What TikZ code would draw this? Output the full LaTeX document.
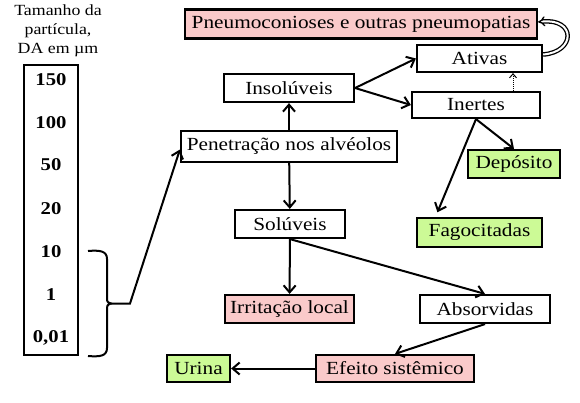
\documentclass[tikz,border=0pt]{standalone}
\usepackage{fontspec}
\setmainfont{Liberation Serif}[FakeStretch=1.15]
\usetikzlibrary{arrows.meta}

\definecolor{pneupink}{RGB}{250,202,202}
\definecolor{fagogreen}{RGB}{204,250,150}

\begin{document}
\begin{tikzpicture}[x=1pt, y=-1pt, >={Straight Barb[length=7pt,width=12pt]},
    font=\fontsize{18.5}{20}\selectfont,
    box/.style={draw, line width=2.2pt, inner sep=0pt, minimum height=28pt},
    pinkbox/.style={box, fill=pneupink},
    greenbox/.style={box, fill=fagogreen},
    arr/.style={->, line width=2pt}]
    \useasboundingbox (0,0) rectangle (580,402);

    % the size column on the left
    \node[align=center, font=\fontsize{15.5}{19}\selectfont] (title) at (58,31) {Tamanho da\\partícula,\\DA em µm};
    \node[draw, line width=2.2pt, minimum width=54pt, minimum height=290pt] (column) at (51,210) {};
    \foreach \val/\ypos [count=\i] in {150/80, 100/123, 50/165, 20/209, 10/252, 1/295, {0,01}/338}
        \node[font=\fontsize{18}{20}\selectfont\bfseries] (size\i) at (51,\ypos) {\val};

    % the brace round the small sizes
    \draw[line width=2pt] (88,251) .. controls (100,250) and (107,251) .. (107,259) -- (107,297)
        .. controls (107,302) .. (111,303.5) .. controls (107,305) .. (107,311) -- (107,348)
        .. controls (107,356) and (100,357) .. (88,356);
    \coordinate (bracetip) at (111,303.5);

    % the boxes
    \node[pinkbox, minimum width=352pt, minimum height=29pt] (pneumo) at (361,24) {Pneumoconioses e outras pneumopatias};
    \node[box, minimum width=125pt, minimum height=27pt] (ativas) at (479.5,58.5) {Ativas};
    \node[box, minimum width=130pt] (insol) at (289,88) {Insolúveis};
    \node[box, minimum width=128pt, minimum height=26pt] (inertes) at (476,105) {Inertes};
    \node[box, minimum width=216pt, minimum height=31pt] (penet) at (289,146.5) {Penetração nos alvéolos};
    \node[box, minimum width=110pt] (solu) at (290,224) {Solúveis};
    \node[greenbox, minimum width=92pt] (deposito) at (514,164) {Depósito};
    \node[greenbox, minimum width=125pt, minimum height=29pt] (fago) at (479.5,232.5) {Fagocitadas};
    \node[pinkbox, minimum width=129pt] (irrit) at (289.5,309) {Irritação local};
    \node[box, minimum width=130pt] (absor) at (485,309) {Absorvidas};
    \node[greenbox, minimum width=63pt, minimum height=27pt] (urina) at (198.5,368.5) {Urina};
    \node[pinkbox, minimum width=158pt, minimum height=27pt] (efeito) at (395,368.5) {Efeito sistêmico};

    % the arrows
    \draw[arr] (bracetip) -- ++(19,0) -- ([yshift=-3pt]penet.west);
    \draw[arr] (penet) -- (insol);
    \draw[arr] (penet) -- (solu);
    \draw[arr] (insol.east) -- (ativas.west);
    \draw[arr] (insol.east) -- (inertes.west);
    \draw[->, >={Straight Barb[length=4pt,width=7pt]}, line width=1pt, densely dotted] ([xshift=37pt]inertes.north) -- ([xshift=37pt]inertes.north |- ativas.south);
    \draw[double, double distance=2pt, line width=1.3pt, -{Implies}] ([yshift=4pt]ativas.east)
        .. controls (576,52) and (576,18) .. ([yshift=2pt]pneumo.east);
    \draw[arr] (inertes.south) -- (deposito.north);
    \draw[arr, shorten >=5pt] (inertes.south) -- ([xshift=-44pt]fago.north);
    \draw[arr] (solu) -- (irrit);
    \draw[arr] (solu.south) -- (absor.north);
    \draw[arr] (absor.south) -- (efeito.north);
    \draw[arr] (efeito) -- (urina);
\end{tikzpicture}
\end{document}
